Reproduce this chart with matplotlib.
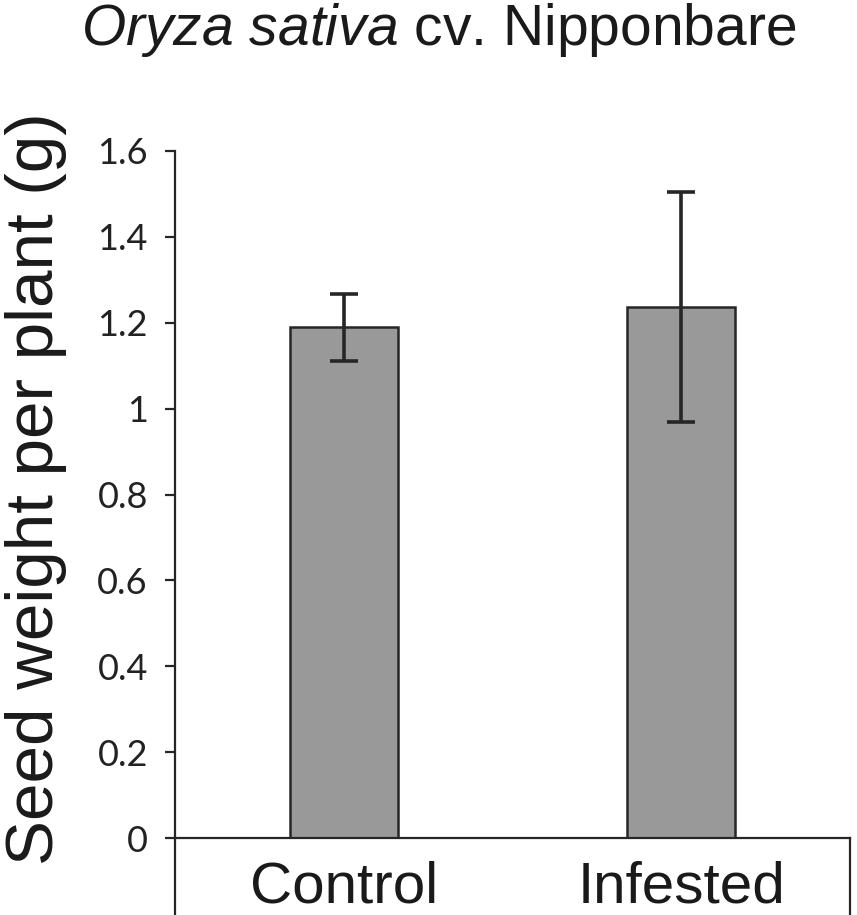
import matplotlib
matplotlib.use("Agg")
import matplotlib.pyplot as plt
from matplotlib.lines import Line2D

categories = ["Control", "Infested"]
values = [1.19, 1.237]
errors = [0.078, 0.267]
yticks = [0, 0.2, 0.4, 0.6, 0.8, 1.0, 1.2, 1.4, 1.6]
ytick_labels = ["0", "0.2", "0.4", "0.6", "0.8", "1", "1.2", "1.4", "1.6"]

plt.rcParams['mathtext.fontset'] = 'custom'
plt.rcParams['mathtext.rm'] = 'Liberation Sans'
plt.rcParams['mathtext.it'] = 'Liberation Sans:italic'

W, H = 857, 915
fig = plt.figure(figsize=(W/100, H/100), dpi=100)
ax = fig.add_axes([175/W, 1-838/H, (850-175)/W, (838-151)/H])

x = list(range(len(categories)))
ax.bar(x, values, width=0.32, color="#999999", edgecolor="#262626", linewidth=1.8, zorder=2)
ax.errorbar(x, values, yerr=errors, fmt="none", ecolor="#262626", elinewidth=2.6,
            capsize=10, capthick=2.6, zorder=3)

ax.set_xlim(-0.5, 1.5)
ax.set_ylim(0, 1.6)
ax.set_yticks(yticks)
ax.set_yticklabels(ytick_labels, fontfamily="Lato", fontsize=26, color="#222222")
ax.tick_params(axis="y", direction="out", length=7.5, width=1.6, color="#262626", pad=12)
ax.set_xticks(x)
ax.set_xticklabels(categories, fontfamily="Liberation Sans", fontsize=42, color="#1a1a1a")
ax.tick_params(axis="x", length=0, pad=16)

for s in ["top", "right"]:
    ax.spines[s].set_visible(False)
ax.spines["left"].set_linewidth(1.6)
ax.spines["bottom"].set_linewidth(1.6)
ax.spines["left"].set_color("#262626")
ax.spines["bottom"].set_color("#262626")

ext = -(915-838)/(838-151)
for xv in [0, 1]:
    ax.add_line(Line2D([xv, xv], [0, ext], transform=ax.transAxes, color="#262626",
                       linewidth=1.6, clip_on=False))

fig.text(36/W, 1-489/H, "Seed weight per plant (g)", rotation=90, ha="center", va="center",
         fontfamily="Liberation Sans", fontsize=48.5, color="#1a1a1a")
fig.text(439/W, 1-45/H, r"$\it{Oryza\ sativa}$ cv. Nipponbare", ha="center", va="baseline",
         fontfamily="Liberation Sans", fontsize=41, color="#1a1a1a")

fig.savefig("out.png", dpi=100)
